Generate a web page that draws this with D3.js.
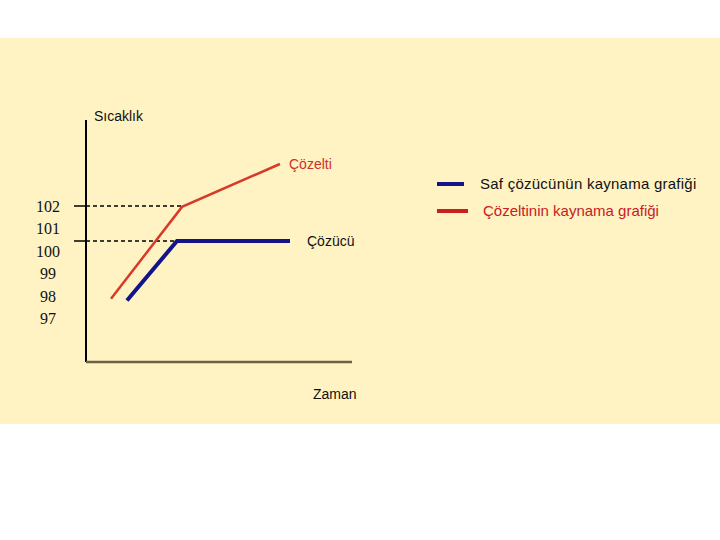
<!DOCTYPE html>
<html>
<head>
<meta charset="utf-8">
<script src="https://cdn.jsdelivr.net/npm/d3@7"></script>
<style>
  body { margin: 0; background: #fff; }
  text { font-family: "Liberation Sans", Arial, sans-serif; }
</style>
</head>
<body>
<div id="chart"></div>
<script>
// values (time in arbitrary units, temperature in °C)
var tickLabels = ["102", "101", "100", "99", "98", "97"];
var solutionTime = [0.94, 3.61, 7.29];
var solutionTemp = [96.7, 101.95, 104.4];
var solventTime = [1.54, 3.42, 7.67];
var solventTemp = [96.6, 100, 100];
var guideTemps = [102, 100];
var legendItems = ["Saf çözücünün kaynama grafiği", "Çözeltinin kaynama grafiği"];

var width = 720, height = 540;

var svg = d3.select("#chart")
  .append("svg")
    .attr("width", width)
    .attr("height", height);

// pale yellow slide band
svg.append("rect")
  .attr("x", 0).attr("y", 38)
  .attr("width", width).attr("height", 386)
  .attr("fill", "#fff3c4");

var x = d3.scaleLinear().domain([0, 10]).range([86, 352]);
var y = d3.scaleLinear().domain([96, 105]).range([311, 153.5]);
var labelY = d3.scalePoint().domain(tickLabels).range([206, 318]);

var solution = solutionTime.map(function(t, i){ return [t, solutionTemp[i]] });
var solvent = solventTime.map(function(t, i){ return [t, solventTemp[i]] });

var line = d3.line()
  .x(function(d){ return x(d[0]) })
  .y(function(d){ return y(d[1]) });

// dashed guide lines at the boiling points
var guideEnds = [solution[1], solvent[1]];
guideTemps.forEach(function(v, i){
  svg.append("line")
    .attr("x1", 74).attr("x2", 86)
    .attr("y1", y(v)).attr("y2", y(v))
    .attr("stroke", "#000").attr("stroke-width", 1.5);
  svg.append("line")
    .attr("x1", 86).attr("x2", x(guideEnds[i][0]))
    .attr("y1", y(v)).attr("y2", y(v))
    .attr("stroke", "#000").attr("stroke-width", 1.5)
    .attr("stroke-dasharray", "4,3");
})

// axes
svg.append("line")
  .attr("x1", 86).attr("x2", 86)
  .attr("y1", 120).attr("y2", 362)
  .attr("stroke", "#000").attr("stroke-width", 2);
svg.append("line")
  .attr("x1", 86).attr("x2", 352)
  .attr("y1", 362).attr("y2", 362)
  .attr("stroke", "#6b6244").attr("stroke-width", 2.5);

svg.selectAll("ticklabels")
  .data(tickLabels)
  .enter()
  .append("text")
    .attr("x", 48)
    .attr("y", function(d){ return labelY(d) + 6 })
    .attr("text-anchor", "middle")
    .style("font-family", "'Liberation Serif', 'Times New Roman', serif")
    .style("font-size", "16px")
    .attr("fill", "#111")
    .text(function(d){ return d });

// curves
svg.append("path")
  .attr("d", line(solution))
  .attr("fill", "none")
  .attr("stroke", "#d83a2a")
  .attr("stroke-width", 2.5);
svg.append("path")
  .attr("d", line(solvent))
  .attr("fill", "none")
  .attr("stroke", "#14148a")
  .attr("stroke-width", 4);

// labels
svg.append("text").attr("x", 94).attr("y", 121)
  .style("font-size", "14px").attr("fill", "#111").text("Sıcaklık");
svg.append("text").attr("x", 313).attr("y", 399)
  .style("font-size", "14px").attr("fill", "#111").text("Zaman");
svg.append("text").attr("x", 289).attr("y", 169)
  .style("font-size", "14px").attr("fill", "#d0302a").text("Çözelti");
svg.append("text").attr("x", 307).attr("y", 246)
  .style("font-size", "14px").attr("fill", "#111").text("Çözücü");

// legend
var legendColors = ["#14148a", "#c8201e"];
var legendTextColors = ["#111", "#c8201e"];
var legend = svg.selectAll("legend")
  .data(legendItems)
  .enter()
  .append("g")
    .attr("transform", function(d, i){ return "translate(437," + (184 + i * 27) + ")" });
legend.append("line")
  .attr("x1", 0).attr("x2", function(d, i){ return i == 0 ? 27 : 31 })
  .attr("y1", 0).attr("y2", 0)
  .attr("stroke", function(d, i){ return legendColors[i] })
  .attr("stroke-width", 4);
legend.append("text")
  .attr("x", function(d, i){ return i == 0 ? 43 : 46 })
  .attr("y", 5)
  .style("font-size", "15px")
  .style("letter-spacing", function(d, i){ return i == 0 ? "0.25px" : "0px" })
  .attr("fill", function(d, i){ return legendTextColors[i] })
  .text(function(d){ return d });
</script>
</body>
</html>
